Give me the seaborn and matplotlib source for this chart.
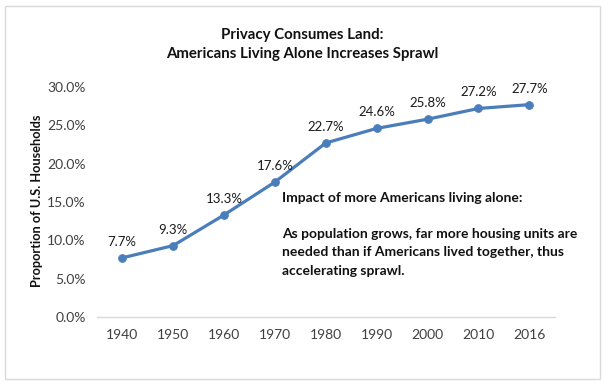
import pandas as pd
import seaborn as sns
import matplotlib.pyplot as plt
from matplotlib.patches import Rectangle
from matplotlib.ticker import PercentFormatter

# Chart data
years = ['1940', '1950', '1960', '1970', '1980', '1990', '2000', '2010', '2016']
share_alone = [7.7, 9.3, 13.3, 17.6, 22.7, 24.6, 25.8, 27.2, 27.7]
y_ticks = [0, 5, 10, 15, 20, 25, 30]

title = 'Privacy Consumes Land:\nAmericans Living Alone Increases Sprawl'
y_label = 'Proportion of U.S. Households'
note = ('Impact of more Americans living alone:\n\n'
        'As population grows, far more housing units are\n'
        'needed than if Americans lived together, thus\n'
        'accelerating sprawl.')

df = pd.DataFrame({'year': years, 'share': share_alone})

sns.set_style('white')
plt.rcParams['font.family'] = ['Lato', 'DejaVu Sans']

fig = plt.figure(figsize=(6.05, 3.85), dpi=100)
ax = fig.add_axes([0.160, 0.177, 0.757, 0.597])

line_color = '#4A7EBB'
sns.lineplot(data=df, x='year', y='share', ax=ax, color=line_color,
             linewidth=2.3, marker='o', markersize=5.5,
             markeredgecolor=line_color, sort=False)

# data labels above each point
for i, v in enumerate(share_alone):
    ax.annotate(f'{v:.1f}%', (i, v), xytext=(0, 11.5), textcoords='offset points',
                ha='center', va='center', fontsize=9.5, color='#1a1a1a')

ax.set_xlim(-0.5, len(years) - 0.5)
ax.set_ylim(0, 30)
ax.set_yticks(y_ticks)
ax.yaxis.set_major_formatter(PercentFormatter(decimals=1))
ax.tick_params(axis='both', length=0, labelsize=10, colors='#404040')
ax.tick_params(axis='y', pad=8)
ax.tick_params(axis='x', pad=9)

for side in ['top', 'right', 'left']:
    ax.spines[side].set_visible(False)
ax.spines['bottom'].set_color('#d9d9d9')
ax.spines['bottom'].set_linewidth(1)

ax.set_xlabel('')
ax.set_ylabel('')
fig.text(0.061, 0.478, y_label, rotation=90, ha='center', va='center',
         fontsize=9.2, fontweight='bold', color='#111111')

fig.text(0.5, 0.885, title, ha='center', va='center', fontsize=10.8,
         fontweight='bold', color='#111111', linespacing=1.5)

fig.text(0.466, 0.502, note, ha='left', va='top', fontsize=10,
         fontweight='bold', color='#111111', linespacing=1.62)

# light chart-area border
fig.patches.append(Rectangle((0.009, 0.015), 0.982, 0.97, transform=fig.transFigure,
                             fill=False, edgecolor='#d9d9d9', linewidth=1))

fig.savefig('out.png', dpi=100)
